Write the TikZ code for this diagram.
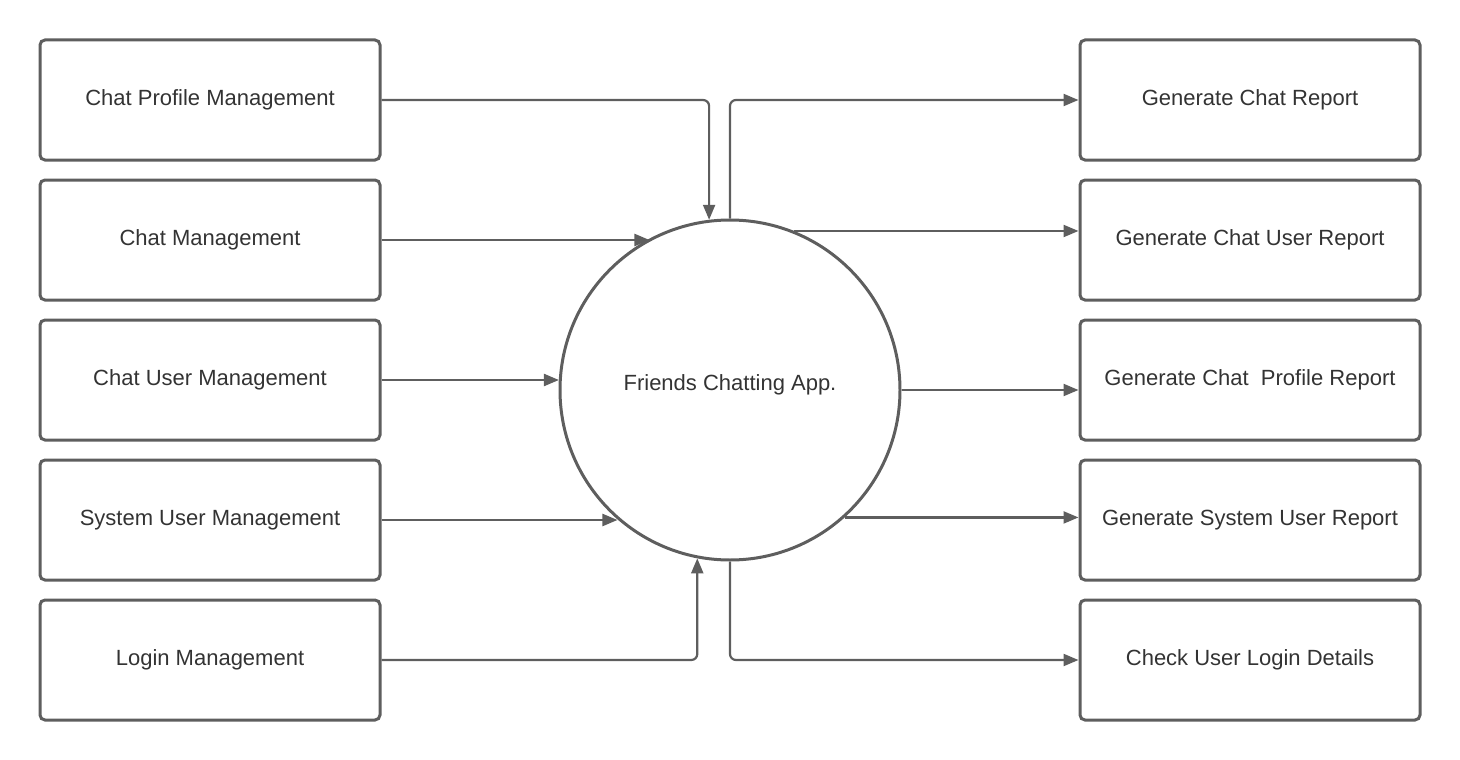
\documentclass[tikz,border=0pt]{standalone}
\usepackage{fontspec}
\setmainfont{Liberation Sans}
\usetikzlibrary{arrows.meta}
\definecolor{linec}{HTML}{5E5E5E}
\definecolor{textc}{HTML}{333333}
\begin{document}
\begin{tikzpicture}[x=1pt,y=-1pt,
  box/.style={draw=linec, line width=3pt, rounded corners=5pt, minimum width=340pt, minimum height=120pt, inner sep=0pt, text=textc, font=\fontsize{22}{26}\selectfont},
  proc/.style={draw=linec, line width=3pt, circle, minimum size=340pt, inner sep=0pt, text=textc, font=\fontsize{22}{26}\selectfont},
  flow/.style={draw=linec, line width=2.2pt, rounded corners=6pt, -{Triangle[length=15pt,width=12pt]}}
]
\useasboundingbox (0,0) rectangle (1460,760);
\node[proc] (C) at (730,390) {};
\node[text=textc, font=\fontsize{22}{26}\selectfont] (CT) at (730,385) {Friends Chatting App.};

\node[box] (L1) at (210,100) {Chat Profile Management};
\node[box] (L2) at (210,240) {Chat Management};
\node[box] (L3) at (210,380) {Chat User Management};
\node[box] (L4) at (210,520) {System User Management};
\node[box] (L5) at (210,660) {Login Management};

\node[box] (R1) at (1250,100) {Generate Chat Report};
\node[box] (R2) at (1250,240) {Generate Chat User Report};
\node[box] (R3) at (1250,380) {Generate Chat\ \ Profile Report};
\node[box] (R4) at (1250,520) {Generate System User Report};
\node[box] (R5) at (1250,660) {Check User Login Details};

\draw[flow] (L1.east) -| (C.97.1);
\draw[flow] (L2.east) -- (L2.east -| C.118.07);
\draw[flow] (L3.east) -- (L3.east -| C.176.63);
\draw[flow] (L4.east) -- (L4.east -| C.229.88);
\draw[flow] (L5.east) -| (C.259.15);

\draw[flow] (C.north) |- (R1.west);
\draw[flow] (C.68.36) -- (C.68.36 -| R2.west);
\draw[flow] (C.east) -- (C.east -| R3.west);
\draw[flow] (C.312.2) -- (C.312.2 -| R4.west);
\draw[flow] (C.south) |- (R5.west);
\end{tikzpicture}
\end{document}
